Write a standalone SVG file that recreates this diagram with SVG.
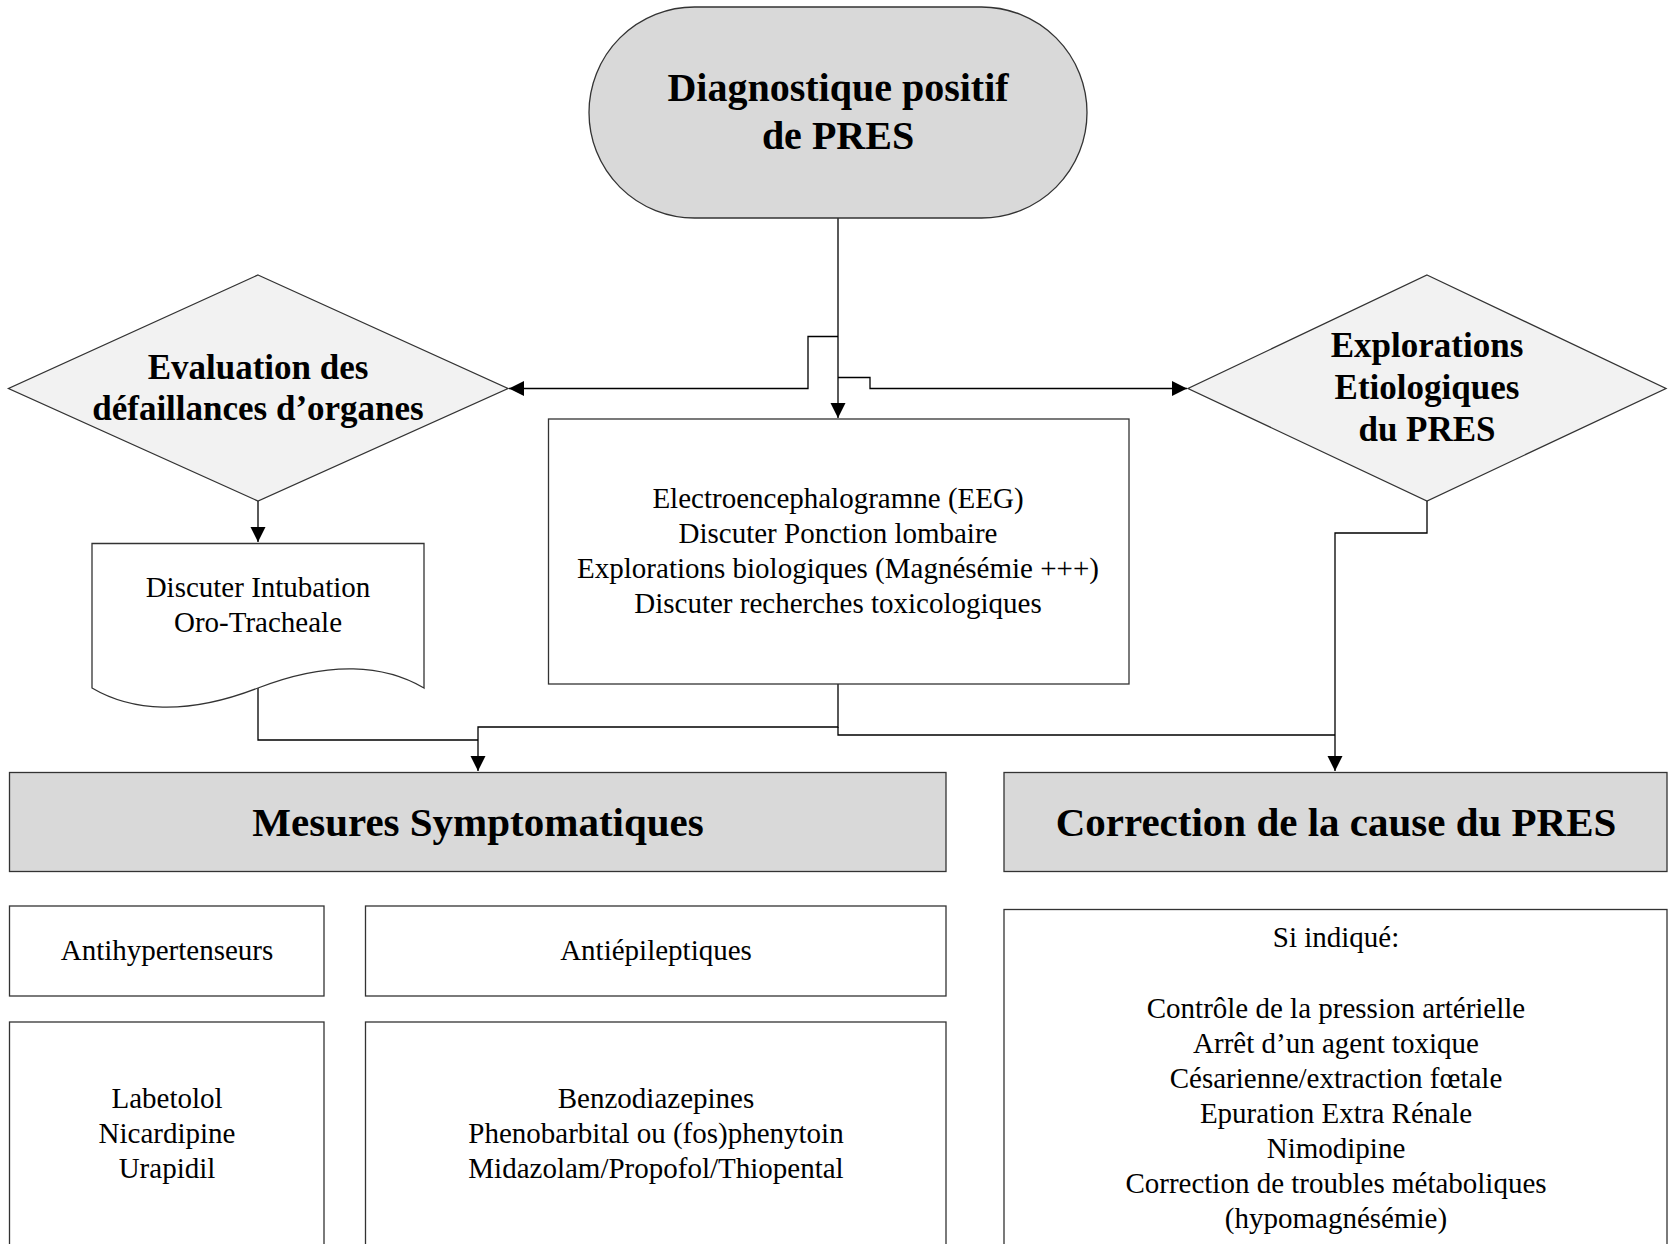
<svg xmlns="http://www.w3.org/2000/svg" width="1671" height="1244" viewBox="0 0 1671 1244">
<style>
  .shape { stroke: #333333; stroke-width: 1.3; }
  .gray { fill: #d9d9d9; }
  .light { fill: #f2f2f2; }
  .white { fill: #ffffff; }
  .conn { fill: none; stroke: #000000; stroke-width: 1.3; }
  text { font-family: "Liberation Serif", "Times New Roman", serif; fill: #000000; text-anchor: middle; }
  .big { font-size: 40px; font-weight: bold; }
  .head { font-size: 41px; font-weight: bold; }
  .dia { font-size: 35px; font-weight: bold; }
  .body { font-size: 29px; }
</style>
<defs>
  <marker id="arrow" markerUnits="userSpaceOnUse" markerWidth="18" markerHeight="18" refX="15" refY="7.5" orient="auto">
    <path d="M0,0 L15,7.5 L0,15 z" fill="#000000"/>
  </marker>
</defs>
<rect width="1671" height="1244" fill="#ffffff"/>

<g id="connectors">
  <path class="conn" d="M838,218 V418" marker-end="url(#arrow)"/>
  <path class="conn" d="M838,336.5 H808 V388.5 H509" marker-end="url(#arrow)"/>
  <path class="conn" d="M838,377.5 H870 V388.5 H1187" marker-end="url(#arrow)"/>
  <path class="conn" d="M258,501 V542" marker-end="url(#arrow)"/>
  <path class="conn" d="M258,688 V740 H478"/>
  <path class="conn" d="M838,684 V727 H478 V771" marker-end="url(#arrow)"/>
  <path class="conn" d="M838,727 V735 H1335"/>
  <path class="conn" d="M1427,501 V533 H1335 V771" marker-end="url(#arrow)"/>
</g>

<g id="node-diagnostique">
  <rect class="shape gray" x="589" y="7" width="498" height="211" rx="105.5" ry="105.5"/>
  <text class="big" x="838" y="101">Diagnostique positif</text>
  <text class="big" x="838" y="149">de PRES</text>
</g>

<g id="node-evaluation">
  <polygon class="shape light" points="258,275 508,388.5 258,501 8.5,388.5"/>
  <text class="dia" x="258" y="379">Evaluation des</text>
  <text class="dia" x="258" y="420">défaillances d’organes</text>
</g>

<g id="node-explorations">
  <polygon class="shape light" points="1427,275 1666,388.5 1427,501 1188,388.5"/>
  <text class="dia" x="1427" y="357">Explorations</text>
  <text class="dia" x="1427" y="399">Etiologiques</text>
  <text class="dia" x="1427" y="441">du PRES</text>
</g>

<g id="node-examens">
  <rect class="shape white" x="548.5" y="419" width="580.5" height="265"/>
  <text class="body" x="838" y="508">Electroencephalogramne (EEG)</text>
  <text class="body" x="838" y="543">Discuter Ponction lombaire</text>
  <text class="body" x="838" y="578">Explorations biologiques (Magnésémie +++)</text>
  <text class="body" x="838" y="613">Discuter recherches toxicologiques</text>
</g>

<g id="node-intubation">
  <path class="shape white" d="M92,543.5 H424 V688 C385,665 330,660 258,688 C186,716 131,711 92,688 Z"/>
  <text class="body" x="258" y="597">Discuter Intubation</text>
  <text class="body" x="258" y="632">Oro-Tracheale</text>
</g>

<g id="node-mesures">
  <rect class="shape gray" x="9.5" y="772.5" width="936.5" height="99"/>
  <text class="head" x="478" y="836">Mesures Symptomatiques</text>
</g>

<g id="node-correction">
  <rect class="shape gray" x="1004" y="772.5" width="663" height="99"/>
  <text class="head" x="1336" y="836">Correction de la cause du PRES</text>
</g>

<g id="node-antihypertenseurs">
  <rect class="shape white" x="9.5" y="906" width="314.5" height="90"/>
  <text class="body" x="167" y="960">Antihypertenseurs</text>
</g>

<g id="node-antiepileptiques">
  <rect class="shape white" x="365.5" y="906" width="580.5" height="90"/>
  <text class="body" x="656" y="960">Antiépileptiques</text>
</g>

<g id="node-antihypertenseurs-liste">
  <rect class="shape white" x="9.5" y="1022" width="314.5" height="240"/>
  <text class="body" x="167" y="1107.5">Labetolol</text>
  <text class="body" x="167" y="1142.5">Nicardipine</text>
  <text class="body" x="167" y="1177.5">Urapidil</text>
</g>

<g id="node-antiepileptiques-liste">
  <rect class="shape white" x="365.5" y="1022" width="580.5" height="240"/>
  <text class="body" x="656" y="1107.5">Benzodiazepines</text>
  <text class="body" x="656" y="1142.5">Phenobarbital ou (fos)phenytoin</text>
  <text class="body" x="656" y="1177.5">Midazolam/Propofol/Thiopental</text>
</g>

<g id="node-causes">
  <rect class="shape white" x="1004" y="909.5" width="663" height="350"/>
  <text class="body" x="1336" y="947">Si indiqué:</text>
  <text class="body" x="1336" y="1017.5">Contrôle de la pression artérielle</text>
  <text class="body" x="1336" y="1052.5">Arrêt d’un agent toxique</text>
  <text class="body" x="1336" y="1087.5">Césarienne/extraction fœtale</text>
  <text class="body" x="1336" y="1122.5">Epuration Extra Rénale</text>
  <text class="body" x="1336" y="1157.5">Nimodipine</text>
  <text class="body" x="1336" y="1192.5">Correction de troubles métaboliques</text>
  <text class="body" x="1336" y="1227.5">(hypomagnésémie)</text>
</g>
</svg>
